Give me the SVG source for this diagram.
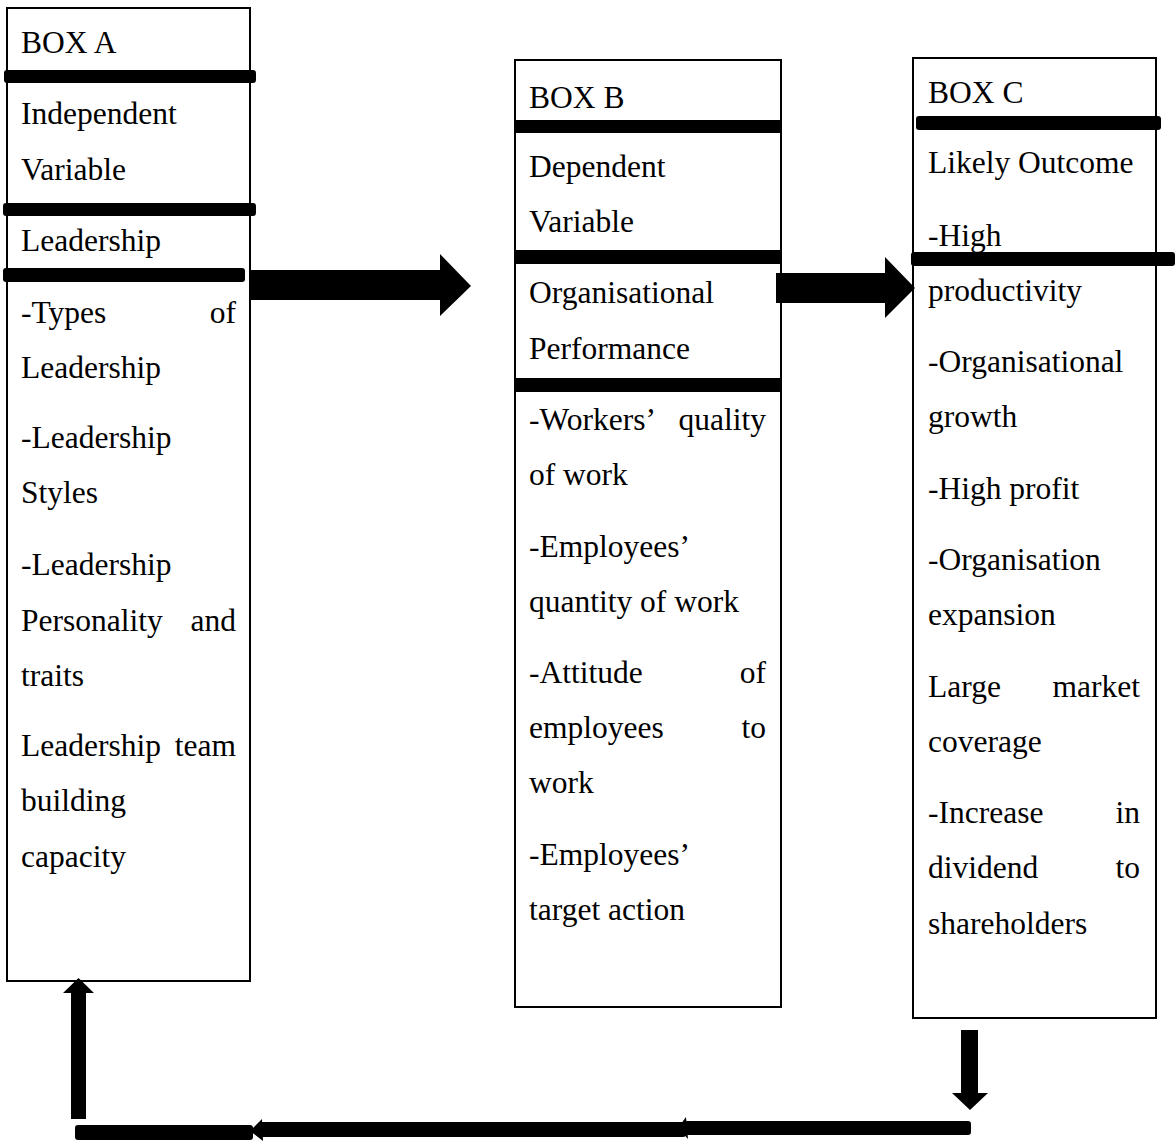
<svg xmlns="http://www.w3.org/2000/svg" width="1175" height="1141" viewBox="0 0 1175 1141">
<style>
  .box { fill: #fff; stroke: #000; stroke-width: 2; }
  .bar { fill: #000; }
  text { font-family: "Liberation Serif", "Times New Roman", serif; font-size: 31.5px; fill: #000; }
  .r { text-anchor: end; }
  .conn { fill: #000; }
</style>
<rect width="1175" height="1141" fill="#fff"/>

<g id="boxA">
  <rect class="box" x="7" y="8" width="243" height="973"/>
  <rect class="bar" x="4" y="70" width="252" height="13" rx="3"/>
  <rect class="bar" x="3" y="203" width="253" height="13" rx="3"/>
  <rect class="bar" x="3" y="268" width="242" height="14" rx="3"/>
  <text x="21" y="53">BOX A</text>
  <text x="21" y="124">Independent</text>
  <text x="21" y="180">Variable</text>
  <text x="21" y="251">Leadership</text>
  <text x="21" y="323">-Types</text><text class="r" x="236" y="323">of</text>
  <text x="21" y="378">Leadership</text>
  <text x="21" y="448">-Leadership</text>
  <text x="21" y="503">Styles</text>
  <text x="21" y="575">-Leadership</text>
  <text x="21" y="631">Personality</text><text class="r" x="236" y="631">and</text>
  <text x="21" y="686">traits</text>
  <text x="21" y="756">Leadership</text><text class="r" x="236" y="756">team</text>
  <text x="21" y="811">building</text>
  <text x="21" y="867">capacity</text>
</g>

<g id="boxB">
  <rect class="box" x="515" y="60" width="266" height="947"/>
  <rect class="bar" x="515" y="120" width="266" height="13"/>
  <rect class="bar" x="515" y="250" width="266" height="14"/>
  <rect class="bar" x="515" y="378" width="266" height="14"/>
  <text x="529" y="108">BOX B</text>
  <text x="529" y="177">Dependent</text>
  <text x="529" y="232">Variable</text>
  <text x="529" y="303">Organisational</text>
  <text x="529" y="359">Performance</text>
  <text x="529" y="430">-Workers’</text><text class="r" x="766" y="430">quality</text>
  <text x="529" y="485">of work</text>
  <text x="529" y="557">-Employees’</text>
  <text x="529" y="612">quantity of work</text>
  <text x="529" y="683">-Attitude</text><text class="r" x="766" y="683">of</text>
  <text x="529" y="738">employees</text><text class="r" x="766" y="738">to</text>
  <text x="529" y="793">work</text>
  <text x="529" y="865">-Employees’</text>
  <text x="529" y="920">target action</text>
</g>

<g id="boxC">
  <rect class="box" x="913" y="58" width="243" height="960"/>
  <rect class="bar" x="916" y="116" width="245" height="14" rx="3"/>
  <rect class="bar" x="911" y="252" width="264" height="14" rx="3"/>
  <text x="928" y="103">BOX C</text>
  <text x="928" y="173">Likely Outcome</text>
  <text x="928" y="246">-High</text>
  <text x="928" y="301">productivity</text>
  <text x="928" y="372">-Organisational</text>
  <text x="928" y="427">growth</text>
  <text x="928" y="499">-High profit</text>
  <text x="928" y="570">-Organisation</text>
  <text x="928" y="625">expansion</text>
  <text x="928" y="697">Large</text><text class="r" x="1140" y="697">market</text>
  <text x="928" y="752">coverage</text>
  <text x="928" y="823">-Increase</text><text class="r" x="1140" y="823">in</text>
  <text x="928" y="878">dividend</text><text class="r" x="1140" y="878">to</text>
  <text x="928" y="934">shareholders</text>
</g>

<g id="connectors">
  <polygon class="conn" points="251,270 440,270 440,254 471,286 440,316 440,300 251,300"/>
  <polygon class="conn" points="776,273 885,273 885,257 915,288 885,318 885,303 776,303"/>
  <polygon class="conn" points="961,1030 978,1030 978,1093 988,1093 970,1110 952,1093 961,1093"/>
  <rect class="conn" x="684" y="1121" width="287" height="14" rx="3"/>
  <polygon class="conn" points="678,1128 686,1117 688,1139"/>
  <rect class="conn" x="258" y="1122" width="428" height="15" rx="3"/>
  <polygon class="conn" points="250,1131 262,1119 263,1141"/>
  <rect class="conn" x="75" y="1125" width="178" height="15" rx="3"/>
  <polygon class="conn" points="71,1119 71,993 63,993 78.5,978 94,993 86,993 86,1119"/>
</g>
</svg>
